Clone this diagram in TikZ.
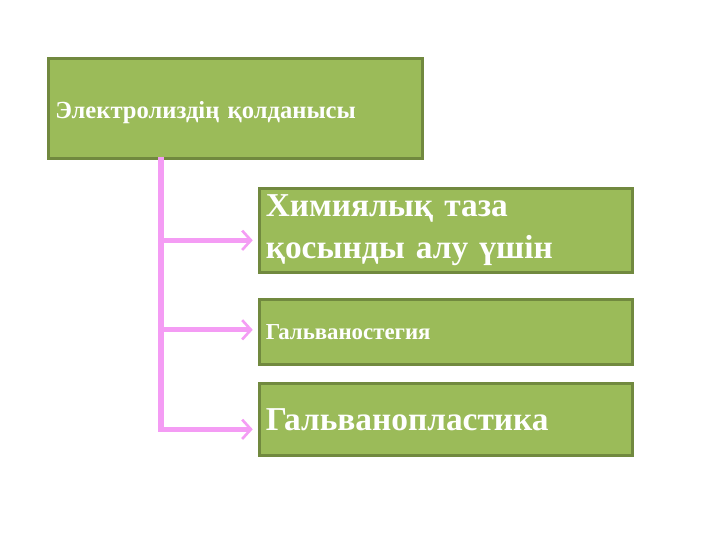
\documentclass[tikz,border=0pt]{standalone}
\usepackage{fontspec}
\setmainfont{Liberation Serif}
\usetikzlibrary{arrows.meta}
\definecolor{boxgreen}{HTML}{9BBB59}
\definecolor{boxedge}{HTML}{71893F}
\definecolor{linkpink}{HTML}{F49CF4}
\begin{document}
\begin{tikzpicture}[x=0.02cm,y=-0.02cm,
    greenbox/.style={draw=boxedge,line width=1.5pt,fill=boxgreen,text=white,font=\bfseries,
      anchor=north west,inner sep=0pt,align=left},
    link/.style={linkpink,line width=3pt,-{Straight Barb[length=5pt,width=11pt,line width=1.5pt]}}]
    \useasboundingbox (0,0) rectangle (720,540);
    % Boxes
    \node[greenbox,minimum width=7.48cm,minimum height=2cm,text width=7.2cm,font=\bfseries\fontsize{14}{16}\selectfont] (root) at (47,57) {\rule{0pt}{0.5cm}Электролиздің қолданысы};
    \node[greenbox,minimum width=7.46cm,minimum height=1.68cm,text width=7.2cm,font=\bfseries\fontsize{19}{24}\selectfont] (chem) at (258,187) {Химиялық таза\\қосынды алу үшін};
    \node[greenbox,minimum width=7.46cm,minimum height=1.3cm,text width=7.2cm,font=\bfseries\fontsize{13}{15}\selectfont] (steg) at (258,298) {Гальваностегия};
    \node[greenbox,minimum width=7.46cm,minimum height=1.44cm,text width=7.2cm,font=\bfseries\fontsize{19}{22}\selectfont] (plast) at (258,382) {Гальванопластика};
    % Connectors
    \coordinate (trunk) at (161,157);
    \draw[link] (trunk) |- ([xshift=-3pt,yshift=-0.2cm]chem.west);
    \draw[link] (trunk) |- ([xshift=-3pt,yshift=0.04cm]steg.west);
    \draw[link] (trunk) |- ([xshift=-3pt,yshift=-0.2cm]plast.west);
\end{tikzpicture}
\end{document}
